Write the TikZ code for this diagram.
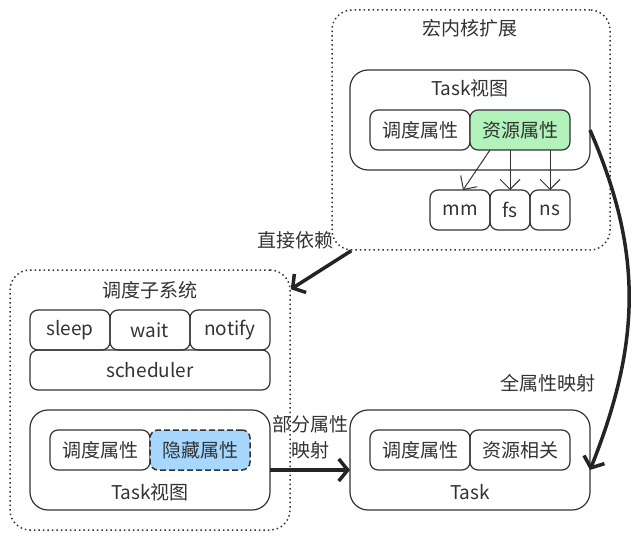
\documentclass[tikz,border=0pt]{standalone}
\usepackage{fontspec}
\setmainfont{Noto Sans CJK SC}
\usetikzlibrary{arrows.meta, positioning}
\definecolor{ink}{HTML}{333333}
\definecolor{resgreen}{RGB}{178,242,187}
\definecolor{hidblue}{RGB}{166,216,255}

\begin{document}
\begin{tikzpicture}[x=1pt, y=-1pt]
\tikzset{group/.style={rectangle, draw=ink, line width=1.5pt, dash pattern=on 1.5pt off 3pt, rounded corners=20pt},
		view/.style={rectangle, draw=ink, line width=1.2pt, rounded corners=18pt, minimum width=240pt, minimum height=100pt, outer sep=0pt},
		box/.style={rectangle, draw=ink, line width=1.2pt, rounded corners=8pt, minimum width=100pt, minimum height=40pt, inner sep=0pt, outer sep=0pt, text=ink, font=\fontsize{19}{22}\selectfont},
		txt/.style={text=ink, inner sep=0pt, font=\fontsize{19}{26}\selectfont},
		thin arrow/.style={draw=ink, line width=1pt, -{Straight Barb[length=10pt, width=20pt]}},
		thick arrow/.style={draw=ink!70!black, line width=3.5pt, -{Straight Barb[length=9pt, width=22pt]}}}
\useasboundingbox (0,0) rectangle (640,540);
% macro kernel extension
\node[group, minimum width=278pt, minimum height=240pt] (EXT) at (471,130) {};
\node[txt] (EXTT) at (470,28) {宏内核扩展};
\node[view] (EV) at (470,120) {};
\node[txt] (EVT) at (470,88) {Task视图};
\node[box] (ESch) at (420,130) {调度属性};
\node[box, fill=resgreen, right=0pt of ESch] (ERes) {资源属性};
\node[box, minimum width=60pt] (MM) at (460,210) {mm};
\node[box, minimum width=40pt, right=0pt of MM] (FS) {fs};
\node[box, minimum width=40pt, right=0pt of FS] (NS) {ns};
\draw[thin arrow] ([xshift=-30pt]ERes.south) -- ([xshift=3pt]MM.north);
\draw[thin arrow] ([xshift=-10pt]ERes.south) -- (FS.north);
\draw[thin arrow] ([xshift=30pt]ERes.south) -- (NS.north);
% scheduler subsystem
\node[group, minimum width=280pt, minimum height=260pt] (SUB) at (150,400) {};
\node[txt] (SUBT) at (150,290) {调度子系统};
\node[box, minimum width=80pt] (Sleep) at (70,330) {sleep};
\node[box, minimum width=80pt, right=0pt of Sleep] (Wait) {wait};
\node[box, minimum width=80pt, right=0pt of Wait] (Notify) {notify};
\node[box, minimum width=240pt, below=0pt of Wait] (Sched) {scheduler};
\node[view] (SV) at (150,460) {};
\node[box] (SSch) at (100,450) {调度属性};
\node[box, fill=hidblue, line width=1.5pt, dash pattern=on 6pt off 3pt, right=0pt of SSch] (SHid) {隐藏属性};
\node[txt] (SVT) at (150,492) {Task视图};
% task
\node[view] (TK) at (470,460) {};
\node[box] (TSch) at (420,450) {调度属性};
\node[box, right=0pt of TSch] (TRes) {资源相关};
\node[txt] (TKT) at (470,492) {Task};
% mappings
\draw[thick arrow] ([xshift=20pt]EXT.south west) -- ([yshift=-20pt]SUB.north east);
\node[txt] (DEP) at (295,240) {直接依赖};
\draw[thick arrow] ([yshift=-10pt]SV.east) -- ([yshift=-10pt]TK.west);
\node[txt, align=center] (PART) at (310,437) {部分属性\\映射};
\draw[thick arrow] ([yshift=-10pt]EV.east) .. controls (642,250) and (642,340) .. ([yshift=-10pt]TK.east);
\node[txt] (FULL) at (548,383) {全属性映射};
\end{tikzpicture}
\end{document}
